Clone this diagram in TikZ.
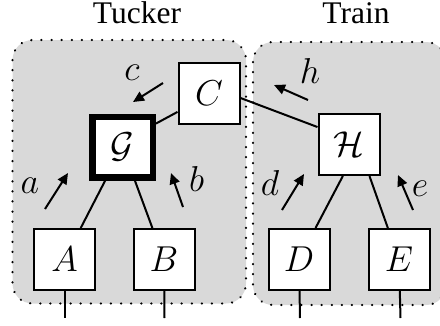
\RequirePackage{fix-cm}
\documentclass[tikz,border=0pt]{standalone}
\usepackage{fontspec}
\newfontfamily\titlefont{Liberation Serif}
\usetikzlibrary{arrows.meta}

\begin{document}
\begin{tikzpicture}[x=1pt, y=-1pt,
  panel/.style={fill=black!15, draw=black, line width=2.4pt,
    dash pattern=on 0.1pt off 10pt, line cap=round, rounded corners=20pt},
  box/.style={draw, line width=2pt, fill=white, minimum size=61pt,
    inner sep=0pt, font=\fontsize{36}{40}\selectfont},
  core/.style={box, line width=6.5pt, minimum size=60.5pt},
  link/.style={line width=2pt},
  flow/.style={line width=2pt, -{Triangle[length=11pt,width=10pt]}},
  lbl/.style={anchor=base, inner sep=0pt, font=\fontsize{36}{40}\selectfont},
  title/.style={anchor=base, inner sep=0pt, font=\titlefont\fontsize{31.5}{36}\selectfont}]

\useasboundingbox (0,0) rectangle (440,325);
\clip (0,0) rectangle (440,325);

% the two groups
\draw[panel] (12.5,40) rectangle (246,303.5);
\draw[panel] (253,42) rectangle (446,305);
\node[title] (ttucker) at (137,23.5) {Tucker};
\node[title] (ttrain) at (356,23.5) {Train};

% tensors
\node[box]  (C) at (209,93)      {$C$};
\node[core] (G) at (122.5,147)   {$\mathcal{G}$};
\node[box]  (A) at (64.5,259.5)  {$A$};
\node[box]  (B) at (164,259.5)   {$B$};
\node[box]  (H) at (349,144.5)   {$\mathcal{H}$};
\node[box]  (D) at (299,259.5)   {$D$};
\node[box]  (E) at (399,259.5)   {$E$};

% open legs
\coordinate (la) at (64.5,318);
\coordinate (lb) at (164.5,318);
\coordinate (ld) at (300,318);
\coordinate (le) at (400.5,318);

% contractions
\draw[link] (G.35) -- (C.211);
\draw[link] (C.-9) -- (H.151);
\draw[link] (G) -- (A);
\draw[link] (G) -- (B);
\draw[link] (H.-101) -- (D);
\draw[link] (H.-57) -- (E);
\draw[link] (A) -- (la);
\draw[link] (B) -- (lb);
\draw[link] (D) -- (ld);
\draw[link] (E) -- (le);

% direction marks
\draw[flow] (163,83) -- (133,102);
\draw[flow] (45,209) -- (68,173);
\draw[flow] (183,207) -- (171,173);
\draw[flow] (308,100) -- (274,85);
\draw[flow] (282,210) -- (304,174);
\draw[flow] (413,210) -- (398,175);

\node[lbl] (lc) at (132,80)    {$c$};
\node[lbl] (la2) at (30,193)   {$a$};
\node[lbl] (lb2) at (196.5,191) {$b$};
\node[lbl] (lh) at (310,83)    {$h$};
\node[lbl] (ld2) at (270,195)  {$d$};
\node[lbl] (le2) at (420,196)  {$e$};
\end{tikzpicture}
\end{document}
